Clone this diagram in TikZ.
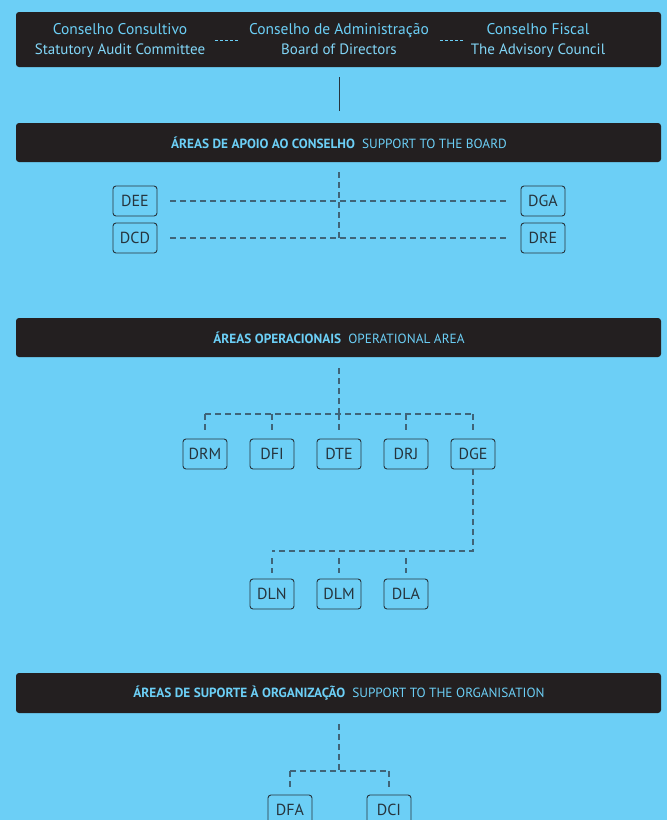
\documentclass[tikz,border=0pt]{standalone}
\usepackage{fontspec}
\setmainfont{PT Sans}
\usetikzlibrary{positioning}

\definecolor{skyblue}{HTML}{6CCFF6}
\definecolor{barblack}{HTML}{231F20}
\definecolor{linkgrey}{HTML}{3F6478}
\definecolor{boxline}{HTML}{26343D}

\tikzset{
    band/.style={fill=barblack, rounded corners=3pt},
    unit/.style={draw=boxline, line width=0.9pt, rounded corners=3pt, minimum width=44pt, minimum height=30pt, inner sep=0pt, text=boxline, font=\fontsize{16}{16}\selectfont},
    link/.style={draw=linkgrey, line width=1.1pt, dash pattern=on 6pt off 4pt},
    bandtext/.style={text=skyblue, font=\fontsize{13.3}{14}\selectfont},
    headtext/.style={text=skyblue, anchor=base, inner sep=0pt, font=\fontsize{15.5}{18}\selectfont},
    subtext/.style={text=skyblue!85!white, anchor=base, inner sep=0pt, font=\fontsize{15}{18}\selectfont}
}

\begin{document}
\begin{tikzpicture}[x=1pt, y=-1pt]
    % Background
    \fill[skyblue] (0,0) rectangle (667,820);
    \useasboundingbox (0,0) rectangle (667,820);

    % Board of directors band
    \fill[band] (16,12) rectangle (661,67);
    \node[headtext] (consultivo) at (120,34) {Conselho Consultivo};
    \node[subtext] (consultivoen) at (120,54) {Statutory Audit Committee};
    \node[headtext] (admin) at (339,34) {Conselho de Administração};
    \node[subtext] (adminen) at (339,54) {Board of Directors};
    \node[headtext] (fiscal) at (538,34) {Conselho Fiscal};
    \node[subtext] (fiscalen) at (538,54) {The Advisory Council};
    \draw[draw=skyblue, line width=1pt, dash pattern=on 3pt off 2pt] (215,40) -- (239,40);
    \draw[draw=skyblue, line width=1pt, dash pattern=on 3pt off 2pt] (440,40) -- (464,40);

    % Support to the board
    \fill[band] (16,123) rectangle (661,162);
    \node[bandtext] (apoio) at (339,143) {\textbf{ÁREAS DE APOIO AO CONSELHO}\ \ SUPPORT TO THE BOARD};
    \coordinate (topfoot) at (339,77);
    \coordinate (apoiohead) at (339,111);
    \draw[boxline, line width=1pt] (topfoot) -- (apoiohead);

    \node[unit] (dee) at (135,201) {DEE};
    \node[unit] (dcd) at (135,238) {DCD};
    \node[unit] (dga) at (543,201) {DGA};
    \node[unit] (dre) at (543,238) {DRE};
    \coordinate (apoiotop) at (339,172);
    \coordinate (apoiomid) at (339,238);
    \draw[link] (apoiotop) -- (apoiomid);
    \draw[link, shorten <=13pt, shorten >=14pt] (dee.east) -- (dga.west);
    \draw[link, shorten <=13pt, shorten >=14pt] (dcd.east) -- (dre.west);

    % Operational area
    \fill[band] (16,318) rectangle (661,357);
    \node[bandtext] (oper) at (339,338) {\textbf{ÁREAS OPERACIONAIS}\ \ OPERATIONAL AREA};

    \node[unit] (drm) at (205,454) {DRM};
    \node[unit] (dfi) at (272,454) {DFI};
    \node[unit] (dte) at (339,454) {DTE};
    \node[unit] (drj) at (406,454) {DRJ};
    \node[unit] (dge) at (473,454) {DGE};
    \coordinate (opertop) at (339,368);
    \coordinate (operbus) at (339,414);
    \draw[link] (opertop) -- (operbus);
    \draw[link] (drm.north |- operbus) -- (dge.north |- operbus);
    \draw[link, shorten >=6pt] (drm.north |- operbus) -- (drm.north);
    \draw[link, shorten >=6pt] (dfi.north |- operbus) -- (dfi.north);
    \draw[link, shorten >=6pt] (dte.north |- operbus) -- (dte.north);
    \draw[link, shorten >=6pt] (drj.north |- operbus) -- (drj.north);
    \draw[link, shorten >=6pt] (dge.north |- operbus) -- (dge.north);

    \node[unit] (dln) at (272,594) {DLN};
    \node[unit] (dlm) at (339,594) {DLM};
    \node[unit] (dla) at (406,594) {DLA};
    \coordinate (dgebus) at (473,551);
    \draw[link] (dge.south) -- (dgebus) -- (dln.north |- dgebus);
    \draw[link, shorten <=7pt, shorten >=6pt] (dln.north |- dgebus) -- (dln.north);
    \draw[link, shorten <=7pt, shorten >=6pt] (dlm.north |- dgebus) -- (dlm.north);
    \draw[link, shorten <=7pt, shorten >=6pt] (dla.north |- dgebus) -- (dla.north);

    % Support to the organisation
    \fill[band] (16,673) rectangle (661,713);
    \node[bandtext] (suporte) at (339,693) {\textbf{ÁREAS DE SUPORTE À ORGANIZAÇÃO}\ \ SUPPORT TO THE ORGANISATION};

    \node[unit] (dfa) at (290,810) {DFA};
    \node[unit] (dci) at (389,810) {DCI};
    \coordinate (suptop) at (339,724);
    \coordinate (supbus) at (339,771);
    \draw[link] (suptop) -- (supbus);
    \draw[link] (dfa.north |- supbus) -- (dci.north |- supbus);
    \draw[link, shorten >=6pt] (dfa.north |- supbus) -- (dfa.north);
    \draw[link, shorten >=6pt] (dci.north |- supbus) -- (dci.north);
\end{tikzpicture}
\end{document}
